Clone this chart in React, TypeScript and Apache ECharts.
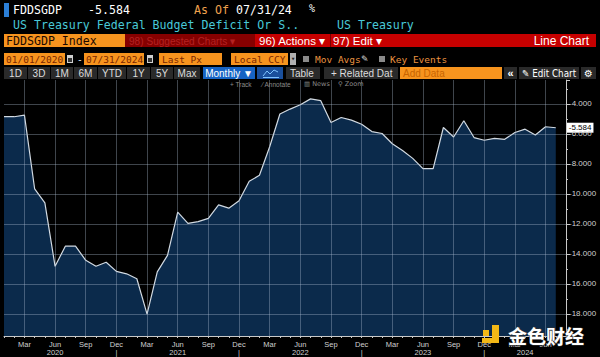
import React, { useEffect, useRef } from 'react';
import * as echarts from 'echarts';

// Monthly observations, Jan 2020 .. Jul 2024
const months: string[] = [
  '2020-01', '2020-02', '2020-03', '2020-04', '2020-05', '2020-06', '2020-07', '2020-08', '2020-09', '2020-10', '2020-11', '2020-12',
  '2021-01', '2021-02', '2021-03', '2021-04', '2021-05', '2021-06', '2021-07', '2021-08', '2021-09', '2021-10', '2021-11', '2021-12',
  '2022-01', '2022-02', '2022-03', '2022-04', '2022-05', '2022-06', '2022-07', '2022-08', '2022-09', '2022-10', '2022-11', '2022-12',
  '2023-01', '2023-02', '2023-03', '2023-04', '2023-05', '2023-06', '2023-07', '2023-08', '2023-09', '2023-10', '2023-11', '2023-12',
  '2024-01', '2024-02', '2024-03', '2024-04', '2024-05', '2024-06', '2024-07',
];

const deficitPctGdp: number[] = [
  -4.85, -4.85, -4.74, -9.67, -10.6, -14.83, -13.49, -13.49, -14.43, -14.83, -14.56, -15.17,
  -15.33, -15.66, -18.02, -15.2, -14.1, -11.22, -11.96, -11.85, -11.63, -10.73, -10.95, -10.46,
  -9.16, -8.76, -6.85, -4.67, -4.34, -4.05, -3.66, -3.78, -5.23, -4.9, -5.08, -5.35,
  -5.84, -5.97, -6.65, -7.1, -7.63, -8.31, -8.31, -5.57, -6.2, -5.12, -6.24, -6.42,
  -6.29, -6.36, -5.9, -5.68, -6.07, -5.52, -5.584,
];

const yTickValues: number[] = [-4, -6, -8, -10, -12, -14, -16, -18];
const monthNames: string[] = ['Jan', 'Feb', 'Mar', 'Apr', 'May', 'Jun', 'Jul', 'Aug', 'Sep', 'Oct', 'Nov', 'Dec'];
const labelledMonths: string[] = ['Mar', 'Jun', 'Sep', 'Dec'];
// month under which each year label sits (middle of that year's visible months)
const yearLabelAt: Record<string, string> = { '2020-06': '2020', '2021-06': '2021', '2022-06': '2022', '2023-06': '2023', '2024-04': '2024' };

const MONO = "'DejaVu Sans Mono', monospace";
const SANS = "'Liberation Sans', Arial, sans-serif";
const ORANGE = '#f7941e';
const GRID_LINE = { color: 'rgba(175,190,210,0.36)', width: 1, type: 'solid' };

const monthName = (m: string) => (m ? monthNames[Number(m.slice(5)) - 1] : '');

function T(x: number, y: number, text: string, size: number, fill: string, extra: any = {}) {
  const { family = MONO, align = 'left', scaleX = 1, weight = 'normal', z = 100 } = extra;
  return {
    type: 'text', x, y, scaleX, z, silent: true,
    style: {
      text, fill, fontSize: size, fontFamily: family, fontWeight: weight,
      align, verticalAlign: 'middle', textAlign: align, textVerticalAlign: 'middle',
    },
  };
}
function R(x: number, y: number, w: number, h: number, fill: string, z = 90) {
  return { type: 'rect', z, silent: true, shape: { x, y, width: w, height: h }, style: { fill } };
}

function buildGraphics() {
  const g: any[] = [];
  // Row 1
  g.push(R(4, 3, 5, 14, '#2c7fd6'));
  g.push(T(13, 10, 'FDDSGDP', 11.6, '#ffffff'));
  g.push(T(88, 10, '-5.584', 11.6, '#ffffff'));
  g.push(T(194, 10, 'As Of', 11.6, '#f0a24e'));
  g.push(T(236, 10, '07/31/24', 11.6, '#ffffff'));
  g.push(T(309, 8, '%', 10, '#ffffff'));
  // Row 2
  g.push(T(13, 25, 'US Treasury Federal Budget Deficit Or S..', 11.6, '#48c9d8'));
  g.push(T(337, 25, 'US Treasury', 11.6, '#48c9d8'));
  // Row 3
  g.push(R(4, 34, 121, 13, ORANGE));
  g.push(T(6, 41, 'FDDSGDP Index', 11.6, '#1a0800'));
  g.push(R(125, 34, 130, 13, '#860000'));
  g.push(T(129, 41, '98) Suggested Charts ▾', 11, '#b52222', { family: SANS, scaleX: 0.92 }));
  g.push(R(255, 34, 341, 13, '#c60000'));
  g.push(T(259, 41, '96) Actions ▾', 11.5, '#ffffff', { family: SANS }));
  g.push(R(330, 34, 1, 13, '#7a0000', 95));
  g.push(T(333, 41, '97) Edit ▾', 11.5, '#ffffff', { family: SANS }));
  g.push(T(589, 41, 'Line Chart', 12, '#ffffff', { family: SANS, align: 'right' }));
  // Row 4
  g.push(R(4, 53, 61, 12, ORANGE));
  g.push(T(6, 59, '01/01/2020', 9.5, '#7a2600'));
  g.push(R(67, 55, 6, 8, '#cfcfcf'));
  g.push(R(68, 58, 4, 4, '#333333', 95));
  g.push(T(77, 59, '-', 9.5, '#ffffff'));
  g.push(R(84, 53, 60, 12, ORANGE));
  g.push(T(86, 59, '07/31/2024', 9.5, '#7a2600'));
  g.push(R(147, 55, 6, 8, '#cfcfcf'));
  g.push(R(148, 58, 4, 4, '#333333', 95));
  g.push(R(159, 53, 63, 12, ORANGE));
  g.push(T(162, 59, 'Last Px', 9.5, '#7a2600'));
  g.push(R(231, 53, 57, 12, ORANGE));
  g.push(T(234, 59, 'Local CCY', 9.5, '#7a2600'));
  g.push(R(290, 53, 6, 12, '#b0b0b0'));
  g.push(T(293, 59, '▾', 7, '#222222', { align: 'center' }));
  g.push(R(303, 56, 6, 6, '#8a8a8a'));
  g.push(T(315, 59, 'Mov Avgs', 9.5, '#eb9440'));
  g.push(T(361, 59, '✎', 9, '#dddddd', { family: "'DejaVu Sans'" }));
  g.push(R(379, 56, 6, 6, '#8a8a8a'));
  g.push(T(390, 59, 'Key Events', 9.5, '#eb9440'));
  // Row 5
  const btns: [number, number, string][] = [
    [4, 27, '1D'], [28, 50, '3D'], [51, 73, '1M'], [74, 97, '6M'], [98, 126, 'YTD'],
    [127, 150, '1Y'], [151, 173, '5Y'], [174, 200, 'Max'],
  ];
  btns.forEach(([a, b, s]) => {
    g.push(R(a, 67, b - a, 12, '#2a2a2a'));
    g.push(T((a + b) / 2, 73, s, 10, '#dddddd', { family: SANS, align: 'center', scaleX: 1 }));
  });
  g.push(R(203, 67, 52, 12, '#1663c4'));
  g.push(T(229, 73, 'Monthly ▼', 10, '#ffffff', { family: SANS, align: 'center' }));
  g.push(R(257, 67, 26, 12, '#1a4f9c'));
  g.push({
    type: 'polyline', z: 100, silent: true,
    shape: { points: [[263, 76], [267, 71], [270, 74], [274, 70], [278, 72]] },
    style: { stroke: '#7fc3ff', lineWidth: 1, fill: null },
  });
  g.push(R(263, 77, 16, 1, '#7fc3ff', 100));
  g.push(R(286, 67, 34, 12, '#2a2a2a'));
  g.push(T(290, 73, 'Table', 10, '#dddddd', { family: SANS }));
  g.push(R(324, 67, 74, 12, '#2a2a2a'));
  g.push(T(331, 73, '+ Related Dat', 10, '#dddddd', { family: SANS }));
  g.push(R(400, 67, 102, 12, ORANGE));
  g.push(T(403, 73, 'Add Data', 10, '#c86400', { family: SANS }));
  g.push(R(504, 67, 13, 12, '#2a2a2a'));
  g.push(T(510.5, 73, '«', 11, '#ffffff', { family: SANS, align: 'center', weight: 'bold' }));
  g.push(R(519, 67, 60, 12, '#2a2a2a'));
  g.push(T(522, 73, '✎ Edit Chart', 10, '#ffffff', { family: "'DejaVu Sans'", scaleX: 0.88 }));
  g.push(R(581, 67, 15, 12, '#2a2a2a'));
  g.push(T(588.5, 73, '⚙', 10, '#ffffff', { family: "'DejaVu Sans'", align: 'center' }));
  // Row 6 (chart toolbar)
  g.push(T(230, 84, '+ Track', 6.5, '#8c8c8c', { family: SANS }));
  g.push(T(262, 84, '⁄ Annotate', 6.5, '#8c8c8c', { family: SANS }));
  g.push(T(304, 84, '▥ News', 6.5, '#8c8c8c', { family: "'DejaVu Sans'" }));
  g.push(T(338, 84, '⚲ Zoom', 6.5, '#8c8c8c', { family: "'DejaVu Sans'" }));
  // Watermark
  g.push(R(492, 325, 7, 18, '#f3b816', 120));
  g.push(R(482, 338, 17, 5, '#f3b816', 120));
  g.push(R(483, 330, 6, 6, '#f3b816', 120));
  g.push({
    type: 'text', x: 508, y: 335, z: 120, silent: true,
    style: {
      text: '金色财经', fill: '#ffffff', fontSize: 19, fontWeight: 'bold',
      fontFamily: "'Noto Sans CJK SC', sans-serif", stroke: '#333333', lineWidth: 1,
      align: 'left', verticalAlign: 'middle', textAlign: 'left', textVerticalAlign: 'middle',
    },
  });
  return g;
}

export default function App() {
  const ref = useRef<HTMLDivElement>(null);
  useEffect(() => {
    if (!ref.current) return;
    const chart = echarts.init(ref.current, null, { renderer: 'svg' });
    // one empty padding slot after Jul 2024 so the axis runs on to the y axis
    const categories = [...months, ''];
    chart.setOption({
      animation: false,
      backgroundColor: '#000000',
      textStyle: { fontFamily: SANS },
      grid: { left: 4, right: 34, top: 80, bottom: 21, containLabel: false },
      xAxis: {
        type: 'category', data: categories, boundaryGap: false, z: 5,
        axisLine: { show: true, lineStyle: { color: '#c8c8c8', width: 1 } },
        axisTick: { show: true, length: 2, interval: 0, lineStyle: { color: '#c8c8c8' } },
        splitLine: {
          show: true,
          interval: (idx: number, val: string) => labelledMonths.includes(monthName(val)),
          lineStyle: GRID_LINE,
        },
        axisLabel: {
          color: '#d0d0d0', fontSize: 7.5, margin: 4, lineHeight: 8.5, interval: 0,
          formatter: (m: string) => {
            if (!m) return '';
            const name = monthName(m);
            const yr = yearLabelAt[m];
            if (labelledMonths.includes(name)) {
              if (yr) return name + '\n' + yr;
              if (name === 'Dec') return name + '\n|';
              return name;
            }
            if (yr) return ' \n' + yr;
            return '';
          },
        },
      },
      yAxis: {
        type: 'value', position: 'right', min: -19.48, max: -2.4, z: 5,
        minInterval: 2, maxInterval: 2,
        axisLine: { show: true, lineStyle: { color: '#c8c8c8', width: 1 } },
        axisTick: { show: true, length: 4, lineStyle: { color: '#c8c8c8' } },
        minorTick: { show: true, splitNumber: 2, length: 2, lineStyle: { color: '#c8c8c8' } },
        splitLine: { show: true, showMaxLine: false, showMinLine: false, lineStyle: GRID_LINE },
        axisLabel: {
          color: '#d0d0d0', fontSize: 8, margin: 3,
          formatter: (v: number) => (yTickValues.some((t) => Math.abs(t - v) < 1e-6) ? v.toFixed(3) : ''),
        },
      },
      graphic: { elements: buildGraphics() },
      series: [
        {
          type: 'line',
          data: deficitPctGdp,
          symbol: 'none',
          z: 2,
          lineStyle: { color: '#d2dae2', width: 1.2 },
          areaStyle: { color: '#0b2a4b', opacity: 1, origin: 'start' },
          endLabel: {
            show: true,
            formatter: (p: any) => Number(p.value).toFixed(3),
            distance: 11,
            backgroundColor: '#ffffff',
            color: '#000000',
            fontSize: 8,
            padding: [1, 2, 1, 2],
          },
        },
      ],
    });
    return () => chart.dispose();
  }, []);
  return <div ref={ref} style={{ position: 'fixed', left: 0, top: 0, width: 600, height: 357 }} />;
}
